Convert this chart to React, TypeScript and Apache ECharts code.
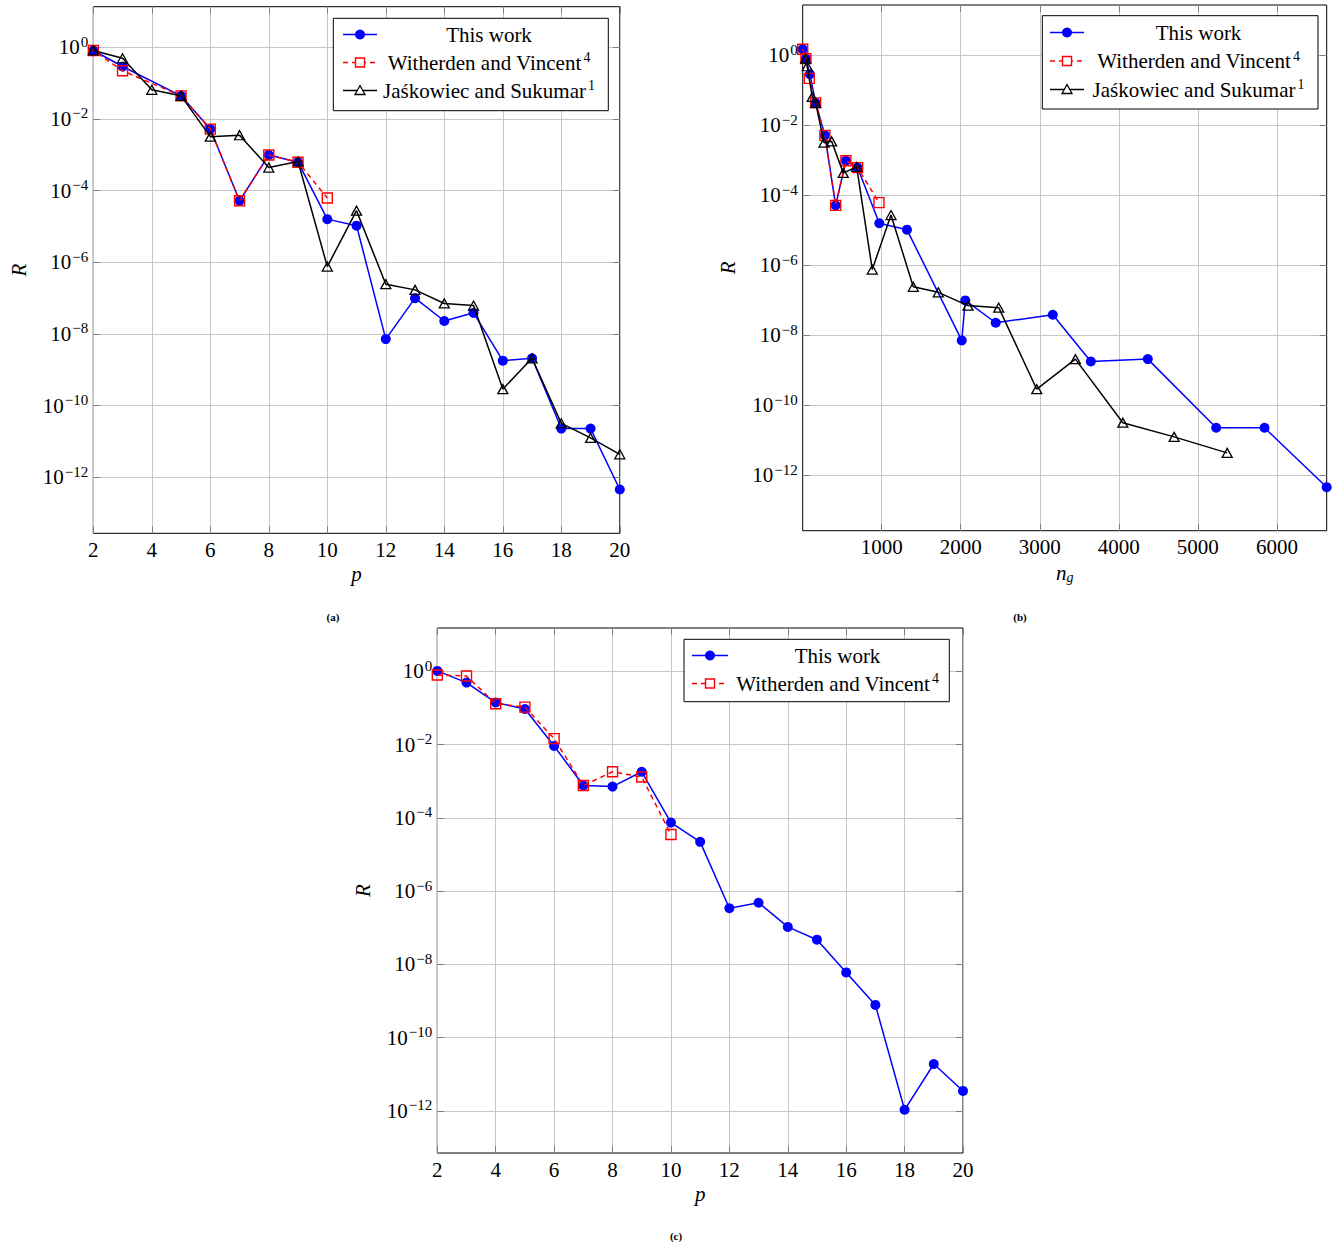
import React, { useEffect, useRef } from 'react';
import * as echarts from 'echarts';

const FONT = "'Liberation Serif', 'Times New Roman', serif";

// ---------- data: panels (a) and (b) ----------
const pThisAB = [1, 2, 3, 5, 6, 7, 8, 9, 10, 11, 12, 13, 14, 15, 16, 17, 18, 19, 20];
const ngThisAB = [1, 42, 92, 165, 282, 418, 548, 696, 970, 1320, 2013, 2058, 2443, 3165, 3646, 4367, 5232, 5843, 6630];
const rThisAB = [1.5, 8.1e-1, 2.9e-1, 4.4e-2, 5.2e-3, 5.2e-5, 9.8e-4, 6.2e-4, 1.6e-5, 1.05e-5, 7.2e-9, 1.0e-7, 2.3e-8, 3.9e-8, 1.8e-9, 2.1e-9, 2.3e-11, 2.3e-11, 4.6e-13];

const pWVAB = [1, 2, 3, 5, 6, 7, 8, 9, 10];
const ngWVAB = [1, 42, 84, 165, 282, 418, 548, 696, 966];
const rWVAB = [1.5, 8.1e-1, 2.2e-1, 4.4e-2, 5.2e-3, 5.2e-5, 9.8e-4, 6.2e-4, 6.2e-5];

const pJS = [2, 3, 4, 5, 6, 7, 8, 9, 10, 11, 12, 13, 14, 15, 16, 17, 18, 19, 20];
const ngJS = [38, 58, 122, 165, 270, 367, 514, 684, 881, 1118, 1400, 1716, 2092, 2481, 2962, 3451, 4051, 4700, 5371];
const rJS = [8.1e-1, 4.9e-1, 6.5e-2, 4.4e-2, 3.2e-3, 3.5e-3, 4.4e-4, 6.5e-4, 7.6e-7, 2.75e-5, 2.45e-7, 1.7e-7, 7.1e-8, 6.2e-8, 2.9e-10, 2.1e-9, 3.2e-11, 1.26e-11, 4.4e-12];

// ---------- data: panel (c) ----------
const pThisC = [2, 3, 4, 5, 6, 7, 8, 9, 10, 11, 12, 13, 14, 15, 16, 17, 18, 19, 20];
const rThisC = [1.02, 4.9e-1, 1.4e-1, 9.3e-2, 9.1e-3, 7.6e-4, 7.1e-4, 1.8e-3, 7.4e-5, 2.2e-5, 3.4e-7, 4.8e-7, 1.05e-7, 4.7e-8, 6.0e-9, 7.8e-10, 1.07e-12, 1.9e-11, 3.5e-12];
const pWVC = [2, 3, 4, 5, 6, 7, 8, 9, 10];
const rWVC = [7.9e-1, 7.4e-1, 1.3e-1, 1.05e-1, 1.45e-2, 7.6e-4, 1.8e-3, 1.3e-3, 3.5e-5];

// ---------- tick values ----------
const yTicks = [1e-12, 1e-10, 1e-8, 1e-6, 1e-4, 1e-2, 1];
const ngTicks = [1000, 2000, 3000, 4000, 5000, 6000];

const NAME_THIS = 'This work';
const NAME_WV = 'Witherden and Vincent';
const NAME_JS = 'Jaśkowiec and Sukumar';

const BLUE = '#0000ff';
const RED = '#ff0000';
const BLACK = '#000000';
const GRID_COLOR = '#c6c6c6';
const TICK_COLOR = '#808080';

const zip = (xs: number[], ys: number[]) => xs.map((x, i) => [x, ys[i]]);

const supRich = {
  b: { fontSize: 21, fontFamily: FONT, color: '#000', lineHeight: 26, verticalAlign: 'middle' },
  s: { fontSize: 15, fontFamily: FONT, color: '#000', lineHeight: 15, verticalAlign: 'top', padding: [0, 0, 0, 1] },
};

function fmtExp(v: number) {
  const e = Math.round(Math.log10(v));
  const t = e < 0 ? '\u2212' + -e : String(e);
  return '{b|10}{s|' + t + '}';
}

function yLeft(gridIndex: number, minExp: number, maxExp: number) {
  return {
    type: 'log',
    logBase: 10,
    gridIndex,
    min: Math.pow(10, minExp),
    max: Math.pow(10, maxExp),
    name: 'R',
    nameLocation: 'middle',
    nameGap: 64,
    nameRotate: 90,
    nameTextStyle: { fontFamily: FONT, fontStyle: 'italic', fontSize: 21, color: '#000' },
    axisLine: { show: false },
    axisTick: { show: true, inside: true, length: 7, lineStyle: { color: TICK_COLOR }, customValues: yTicks },
    axisLabel: { show: true, customValues: yTicks, margin: 5, formatter: fmtExp, rich: supRich, color: '#000' },
    splitLine: { show: true, lineStyle: { color: GRID_COLOR, width: 1 } },
    minorTick: { show: false },
    minorSplitLine: { show: false },
  };
}

function yRight(gridIndex: number, minExp: number, maxExp: number) {
  return {
    type: 'log',
    logBase: 10,
    gridIndex,
    position: 'right',
    min: Math.pow(10, minExp),
    max: Math.pow(10, maxExp),
    axisLine: { show: false },
    axisTick: { show: true, inside: true, length: 7, lineStyle: { color: TICK_COLOR }, customValues: yTicks },
    axisLabel: { show: false, customValues: yTicks },
    splitLine: { show: false },
  };
}

function xP(gridIndex: number, top: boolean) {
  return {
    type: 'value',
    gridIndex,
    position: top ? 'top' : 'bottom',
    min: 2,
    max: 20,
    interval: 2,
    name: top ? '' : 'p',
    nameLocation: 'middle',
    nameGap: 30,
    nameTextStyle: { fontFamily: FONT, fontStyle: 'italic', fontSize: 21, color: '#000' },
    axisLine: { show: false },
    axisTick: { show: true, inside: true, length: 7, lineStyle: { color: TICK_COLOR } },
    axisLabel: { show: !top, margin: 6, fontSize: 21, fontFamily: FONT, color: '#000' },
    splitLine: { show: !top, lineStyle: { color: GRID_COLOR, width: 1 } },
  };
}

function xNg(gridIndex: number, top: boolean) {
  return {
    type: 'value',
    gridIndex,
    position: top ? 'top' : 'bottom',
    min: 1,
    max: 6630,
    name: top ? '' : '{n|n}{g|g}',
    nameLocation: 'middle',
    nameGap: 30,
    nameTextStyle: {
      fontFamily: FONT,
      color: '#000',
      rich: {
        n: { fontFamily: FONT, fontStyle: 'italic', fontSize: 21, lineHeight: 24, verticalAlign: 'middle', color: '#000' },
        g: { fontFamily: FONT, fontStyle: 'italic', fontSize: 14, lineHeight: 14, verticalAlign: 'bottom', color: '#000' },
      },
    },
    axisLine: { show: false },
    axisTick: { show: true, inside: true, length: 7, lineStyle: { color: TICK_COLOR }, customValues: ngTicks },
    axisLabel: {
      show: !top,
      customValues: ngTicks,
      margin: 6,
      fontSize: 21,
      fontFamily: FONT,
      color: '#000',
      formatter: (v: number) => String(v),
    },
    splitLine: { show: !top, lineStyle: { color: GRID_COLOR, width: 1 } },
  };
}

function thisSeries(xi: number, data: number[][]) {
  return {
    type: 'line',
    name: NAME_THIS,
    xAxisIndex: xi,
    yAxisIndex: xi,
    data,
    symbol: 'circle',
    symbolSize: 10,
    lineStyle: { color: BLUE, width: 1.5 },
    itemStyle: { color: BLUE },
    z: 2,
  };
}
function wvSeries(xi: number, data: number[][]) {
  return {
    type: 'line',
    name: NAME_WV,
    xAxisIndex: xi,
    yAxisIndex: xi,
    data,
    symbol: 'rect',
    symbolSize: 10,
    lineStyle: { color: RED, width: 1.5, type: [5, 4] },
    itemStyle: { color: 'rgba(0,0,0,0)', borderColor: RED, borderWidth: 1.4 },
    z: 3,
  };
}
function jsSeries(xi: number, data: number[][]) {
  return {
    type: 'line',
    name: NAME_JS,
    xAxisIndex: xi,
    yAxisIndex: xi,
    data,
    symbol: 'triangle',
    symbolSize: [10, 9],
    lineStyle: { color: BLACK, width: 1.5 },
    itemStyle: { color: 'rgba(0,0,0,0)', borderColor: BLACK, borderWidth: 1.3 },
    z: 4,
  };
}

// ---------- legend drawn as graphic ----------
type Row = { kind: 'this' | 'wv' | 'js'; label: string; sup?: string };

const LZ = 100;

function legendGraphic(bx: number, by: number, bw: number, bh: number, rowYs: number[], rows: Row[], lx1: number, lx2: number, mx: number, tcx: number) {
  const children: any[] = [
    { type: 'rect', z: LZ, shape: { x: bx, y: by, width: bw, height: bh }, style: { fill: '#fff', stroke: '#000', lineWidth: 1 } },
  ];
  rows.forEach((r, i) => {
    const y = rowYs[i];
    if (r.kind === 'this') {
      children.push({ type: 'line', z: LZ + 1, shape: { x1: lx1, y1: y, x2: lx2, y2: y }, style: { stroke: BLUE, lineWidth: 1.5 } });
      children.push({ type: 'circle', z: LZ + 2, shape: { cx: mx, cy: y, r: 5 }, style: { fill: BLUE } });
    } else if (r.kind === 'wv') {
      children.push({ type: 'line', z: LZ + 1, shape: { x1: lx1, y1: y, x2: lx2, y2: y }, style: { stroke: RED, lineWidth: 1.5, lineDash: [5, 4] } });
      children.push({ type: 'rect', z: LZ + 2, shape: { x: mx - 4.5, y: y - 4.5, width: 9, height: 9 }, style: { fill: '#fff', stroke: RED, lineWidth: 1.4 } });
    } else {
      children.push({ type: 'line', z: LZ + 1, shape: { x1: lx1, y1: y, x2: lx2, y2: y }, style: { stroke: BLACK, lineWidth: 1.5 } });
      children.push({ type: 'polygon', z: LZ + 2, shape: { points: [[mx, y - 5], [mx + 5, y + 4], [mx - 5, y + 4]] }, style: { fill: '#fff', stroke: BLACK, lineWidth: 1.3 } });
    }
    const txt = r.sup ? '{b|' + r.label + '}{s|' + r.sup + '}' : '{b|' + r.label + '}';
    children.push({
      type: 'text',
      z: LZ + 3,
      x: tcx,
      y,
      style: {
        text: txt,
        align: 'center',
        verticalAlign: 'middle',
        fill: '#000',
        rich: {
          b: { fontSize: 21, fontFamily: FONT, fill: '#000', lineHeight: 24, verticalAlign: 'middle' },
          s: { fontSize: 14, fontFamily: FONT, fill: '#000', lineHeight: 14, verticalAlign: 'top', padding: [0, 0, 0, 2] },
        },
      },
    });
  });
  return { type: 'group', z: LZ, children };
}

function caption(text: string, x: number, y: number) {
  return {
    type: 'text',
    x,
    y,
    z: LZ,
    style: { text, fontSize: 11, fontWeight: 'bold', fontFamily: FONT, fill: '#000', align: 'center', verticalAlign: 'middle' },
  };
}

const rows3: Row[] = [
  { kind: 'this', label: NAME_THIS },
  { kind: 'wv', label: NAME_WV, sup: '4' },
  { kind: 'js', label: NAME_JS, sup: '1' },
];
const rows2: Row[] = [
  { kind: 'this', label: NAME_THIS },
  { kind: 'wv', label: NAME_WV, sup: '4' },
];

const gridBase = { show: true, borderColor: '#000', borderWidth: 1, backgroundColor: 'rgba(0,0,0,0)', containLabel: false, outerBoundsMode: 'none' };

const option: any = {
  animation: false,
  backgroundColor: '#fff',
  textStyle: { fontFamily: FONT },
  grid: [
    { ...gridBase, left: 93.3, top: 6.7, width: 526.5, height: 526.6 },
    { ...gridBase, left: 802.7, top: 5, width: 524, height: 525.7 },
    { ...gridBase, left: 437.3, top: 628, width: 525.7, height: 525 },
  ],
  xAxis: [xP(0, false), xNg(1, false), xP(2, false), xP(0, true), xNg(1, true), xP(2, true)],
  yAxis: [
    yLeft(0, -13.56, 1.13),
    yLeft(1, -13.58, 1.44),
    yLeft(2, -13.15, 1.18),
    yRight(0, -13.56, 1.13),
    yRight(1, -13.58, 1.44),
    yRight(2, -13.15, 1.18),
  ],
  series: [
    thisSeries(0, zip(pThisAB, rThisAB)),
    wvSeries(0, zip(pWVAB, rWVAB)),
    jsSeries(0, zip(pJS, rJS)),
    thisSeries(1, zip(ngThisAB, rThisAB)),
    wvSeries(1, zip(ngWVAB, rWVAB)),
    jsSeries(1, zip(ngJS, rJS)),
    thisSeries(2, zip(pThisC, rThisC)),
    wvSeries(2, zip(pWVC, rWVC)),
  ],
  graphic: [
    legendGraphic(333.3, 18.3, 275, 92.4, [34.5, 62.5, 90.5], rows3, 343, 377, 360, 489),
    legendGraphic(1042.3, 15.7, 275.7, 93.3, [32.5, 61, 89.5], rows3, 1050, 1084, 1067, 1198.5),
    legendGraphic(684, 639.3, 265.3, 62.4, [655.5, 683.5], rows2, 692, 728, 710, 837.5),
    caption('(a)', 333, 616.5),
    caption('(b)', 1020, 617),
    caption('(c)', 676, 1236),
  ],
};

export default function App() {
  const ref = useRef<HTMLDivElement>(null);
  useEffect(() => {
    if (!ref.current) return;
    const chart = echarts.init(ref.current, null, { renderer: 'svg' });
    chart.setOption(option);
    return () => chart.dispose();
  }, []);
  return (
    <div
      ref={ref}
      style={{ position: 'absolute', left: 0, top: 0, width: 1336, height: 1246, background: '#fff' }}
    />
  );
}
